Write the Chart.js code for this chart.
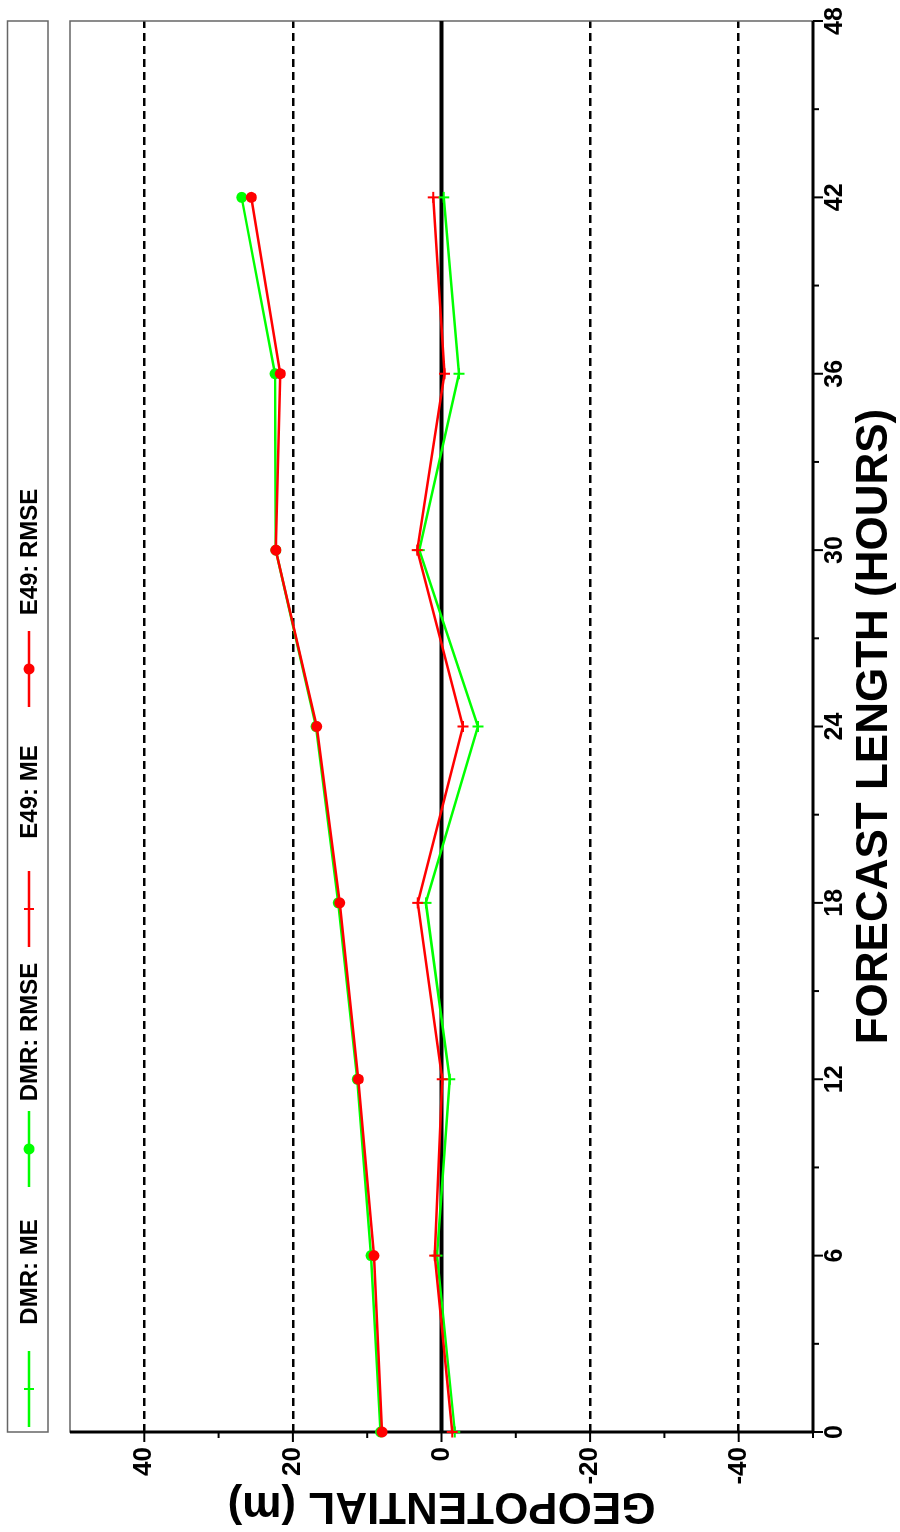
<!DOCTYPE html>
<html>
<head>
<meta charset="utf-8">
<script src="https://cdn.jsdelivr.net/npm/chart.js@4/dist/chart.umd.min.js"></script>
<style>
  html, body { margin: 0; padding: 0; background: #fff; overflow: hidden; width: 900px; height: 1532px; }
  /* the chart is laid out in landscape and turned a quarter turn counter-clockwise */
  #wrap { position: absolute; left: 0; top: 0; width: 1532px; height: 900px;
          transform-origin: 0 0; transform: translate(0, 1532px) rotate(-90deg); }
</style>
</head>
<body>
<div id="wrap"><canvas id="c" width="1532" height="900"></canvas></div>
<script>
// forecast lead times (hours)
const hours = [0, 6, 12, 18, 24, 30, 36, 42];

// geopotential errors (m)
const dmrME    = [-1.8, 0.6, -1.1, 2.1, -4.9, 3.0, -2.35, -0.3];
const dmrRMSE  = [8.2, 9.5, 11.35, 13.9, 16.9, 22.3, 22.4, 26.9];
const e49ME    = [-1.45, 0.9, -0.1, 3.2, -2.9, 3.25, -0.4, 1.1];
const e49RMSE  = [8.0, 9.1, 11.2, 13.7, 16.8, 22.3, 21.7, 25.6];

// axis ticks
const hourTicks      = [0, 6, 12, 18, 24, 30, 36, 42, 48];
const hourMinorTicks = [3, 9, 15, 21, 27, 33, 39, 45];
const geoTicks       = [-40, -20, 0, 20, 40];
const geoMinorTicks  = [-50, -30, -10, 10, 30];

const GREEN = '#00ff00';
const RED = '#ff0000';
const FONT = "'Liberation Sans', Arial, Helvetica, sans-serif";

const pts = vals => hours.map((h, i) => ({ x: h, y: vals[i] }));

function seg(ctx, x1, y1, x2, y2) {
  ctx.beginPath(); ctx.moveTo(x1, y1); ctx.lineTo(x2, y2); ctx.stroke();
}

// frame, axis lines, tick marks and the zero line, under the data
const framePlugin = {
  id: 'framePlugin',
  beforeDatasetsDraw(chart) {
    const { ctx, chartArea: a, scales: { x, y } } = chart;
    ctx.save();
    ctx.strokeStyle = '#666';
    ctx.lineWidth = 1.5;
    ctx.strokeRect(a.left, a.top, a.right - a.left, a.bottom - a.top);

    ctx.strokeStyle = '#000';
    const y0 = y.getPixelForValue(0);
    ctx.lineWidth = 4;
    seg(ctx, a.left, y0, a.right, y0);

    ctx.lineWidth = 3;
    seg(ctx, a.left, a.bottom, a.right, a.bottom);
    seg(ctx, a.left, a.top, a.left, a.bottom);

    ctx.lineWidth = 2;
    hourTicks.forEach(v => { const p = x.getPixelForValue(v); seg(ctx, p, a.bottom, p, a.bottom + 10); });
    hourMinorTicks.forEach(v => { const p = x.getPixelForValue(v); seg(ctx, p, a.bottom, p, a.bottom + 6); });
    geoTicks.forEach(v => { const p = y.getPixelForValue(v); seg(ctx, a.left - 10, p, a.left, p); });
    geoMinorTicks.forEach(v => { const p = y.getPixelForValue(v); seg(ctx, a.left - 6, p, a.left, p); });
    ctx.restore();
  }
};

// boxed legend strip along the top of the plot
const legendPlugin = {
  id: 'legendPlugin',
  afterDraw(chart) {
    const { ctx, chartArea: a } = chart;
    ctx.save();
    ctx.strokeStyle = '#666';
    ctx.lineWidth = 1.5;
    ctx.strokeRect(a.left, 7.5, a.right - a.left, 40.5);
    const cy = 29;
    const step = 240;
    chart.data.datasets.forEach((ds, i) => {
      const x0 = a.left + 5 + step * i;
      const len = 76;
      ctx.strokeStyle = ds.borderColor;
      ctx.fillStyle = ds.borderColor;
      ctx.lineWidth = 2.5;
      seg(ctx, x0, cy, x0 + len, cy);
      const mx = x0 + len / 2;
      if (ds.pointStyle === 'circle') {
        ctx.beginPath(); ctx.arc(mx, cy, 5.5, 0, Math.PI * 2); ctx.fill();
      } else {
        ctx.lineWidth = 2;
        seg(ctx, mx - 5, cy, mx + 5, cy);
        seg(ctx, mx, cy - 5, mx, cy + 5);
      }
      ctx.fillStyle = '#000';
      ctx.font = 'bold 24px ' + FONT;
      ctx.textAlign = 'center';
      ctx.textBaseline = 'middle';
      ctx.fillText(ds.label, (x0 + len + x0 + step) / 2 - 3, cy + 1);
    });
    ctx.restore();
  }
};

const common = { borderWidth: 2.5, tension: 0, clip: false, fill: false };

new Chart(document.getElementById('c'), {
  type: 'line',
  data: {
    datasets: [
      { ...common, label: 'DMR: ME',   data: pts(dmrME),   borderColor: GREEN, backgroundColor: GREEN,
        pointStyle: 'cross', pointRadius: 5.5, pointBorderWidth: 2, order: 1 },
      { ...common, label: 'DMR: RMSE', data: pts(dmrRMSE), borderColor: GREEN, backgroundColor: GREEN,
        pointStyle: 'circle', pointRadius: 5.5, pointBorderWidth: 0, order: 1 },
      { ...common, label: 'E49: ME',   data: pts(e49ME),   borderColor: RED, backgroundColor: RED,
        pointStyle: 'cross', pointRadius: 5.5, pointBorderWidth: 2, order: 0 },
      { ...common, label: 'E49: RMSE', data: pts(e49RMSE), borderColor: RED, backgroundColor: RED,
        pointStyle: 'circle', pointRadius: 5.5, pointBorderWidth: 0, order: 0 }
    ]
  },
  options: {
    responsive: false,
    animation: false,
    devicePixelRatio: 1,
    layout: { autoPadding: false, padding: { top: 70, right: 21, bottom: 0, left: 0 } },
    plugins: { legend: { display: false }, tooltip: { enabled: false } },
    scales: {
      x: {
        type: 'linear', position: 'bottom', min: 0, max: 48,
        afterBuildTicks: s => { s.ticks = hourTicks.map(v => ({ value: v })); },
        afterFit: s => { s.height = 87; },
        grid: { display: false, drawTicks: false },
        border: { display: false },
        ticks: { color: '#000', font: { family: FONT, size: 25, weight: 'bold' }, padding: 7,
                 maxRotation: 0, autoSkip: false },
        title: { display: true, text: 'FORECAST LENGTH (HOURS)', color: '#000',
                 font: { family: FONT, size: 44, weight: 'bold', lineHeight: 1 },
                 padding: { top: 0, bottom: 3 } }
      },
      y: {
        type: 'linear', position: 'left', min: -50, max: 50,
        afterBuildTicks: s => { s.ticks = geoTicks.map(v => ({ value: v })); },
        afterFit: s => { s.width = 100; },
        grid: { display: true, drawTicks: false, lineWidth: 2.5,
                color: c => (c.tick && c.tick.value === 0) ? 'rgba(0,0,0,0)' : '#000' },
        border: { display: false, dash: [8, 5] },
        ticks: { color: '#000', font: { family: FONT, size: 26, weight: 'bold' }, padding: 15 },
        title: { display: true, text: 'GEOPOTENTIAL (m)', color: '#000',
                 font: { family: FONT, size: 44, weight: 'bold', lineHeight: 1 },
                 padding: { top: 5, bottom: 0 } }
      }
    }
  },
  plugins: [framePlugin, legendPlugin]
});
</script>
</body>
</html>
